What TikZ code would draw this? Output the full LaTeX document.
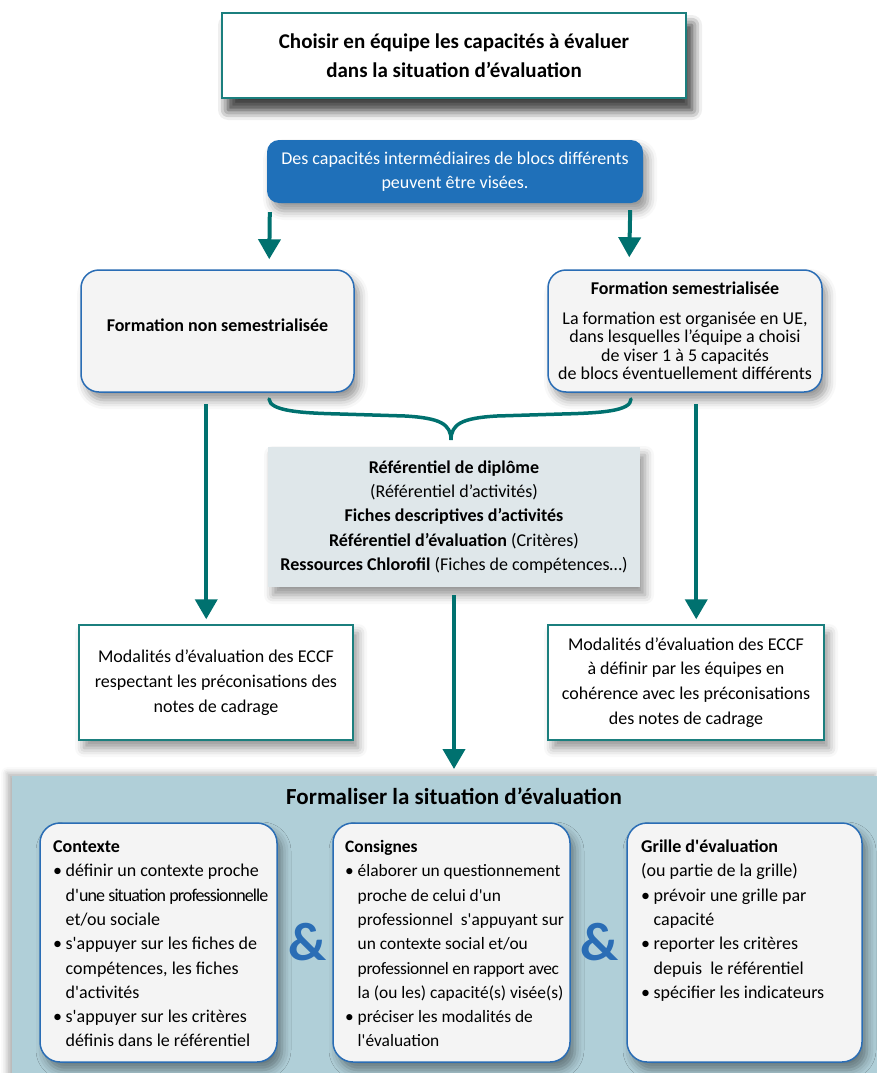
\documentclass[tikz,border=0pt]{standalone}
\usepackage{fontspec}
\setmainfont{Carlito}
\usetikzlibrary{arrows.meta,shadows.blur,calc}
\definecolor{tealA}{HTML}{00716F}
\definecolor{tealB}{HTML}{1B7F7E}
\definecolor{blueB}{HTML}{2A6DB5}
\definecolor{blueF}{HTML}{1F70B9}
\definecolor{grayF}{HTML}{F4F4F4}
\definecolor{centF}{HTML}{DFE7EA}
\definecolor{panelF}{HTML}{B0CFD8}
\newcommand\bulx{\makebox[12.5pt][l]{\textbullet}}
\newcommand\indx{\hspace*{12.5pt}}
\newcommand\apx{\textquotesingle}
\tikzset{
 shad/.style={blur shadow={shadow xshift=5pt,shadow yshift=-8pt,shadow blur radius=9pt,shadow opacity=42}},
 sqbox/.style={draw=tealB,line width=1.5pt,fill=white,shad,inner sep=0pt,align=center},
 rbox/.style={draw=blueB,line width=1.5pt,fill=grayF,rounded corners=18pt,shad,inner sep=0pt,align=center},
 arr/.style={draw=tealA,line width=4pt,-{Triangle[length=20pt,width=22pt]}},
 txt/.style={inner sep=0pt,align=left,anchor=north west,font=\fontsize{18}{24.3}\selectfont},
}
\begin{document}
\begin{tikzpicture}[x=1pt,y=-1pt]
\useasboundingbox (0,0) rectangle (876,1073);
% top
\node[sqbox,blur shadow={shadow xshift=6pt,shadow yshift=-12pt,shadow blur radius=10pt,shadow opacity=50},
 minimum width=464pt,minimum height=85pt,font=\bfseries\fontsize{21}{29}\selectfont] (top) at (454,55.5)
 {Choisir en équipe les capacités à évaluer\\dans la situation d’évaluation};
\node[fill=blueF,rounded corners=12pt,shad,minimum width=376pt,minimum height=63pt,
 text=white,align=center,inner sep=0pt,font=\fontsize{18}{24}\selectfont] (blue) at (455,171.5)
 {Des capacités intermédiaires de blocs différents\\peuvent être visées.};
\node[rbox,minimum width=273pt,minimum height=122pt] (lfm) at (217.5,331) {};
\node[font=\bfseries\fontsize{18}{19}\selectfont,inner sep=0pt] (lfmt) at (217.5,325) {Formation non semestrialisée};
\node[rbox,minimum width=274pt,minimum height=122pt,font=\fontsize{18}{18.5}\selectfont] (rfm) at (685,331)
 {\textbf{Formation semestrialisée}\\[11pt]La formation est organisée en UE,\\dans lesquelles l’équipe a choisi\\de viser 1 à 5 capacités\\de blocs éventuellement différents};
\node[fill=centF,shad,minimum width=372pt,minimum height=140pt,inner sep=0pt,align=center,font=\fontsize{18}{24.3}\selectfont] (cen) at (454,517)
 {\textbf{Référentiel de diplôme}\\(Référentiel d’activités)\\\textbf{Fiches descriptives d’activités}\\\textbf{Référentiel d’évaluation} (Critères)\\\textbf{Ressources Chlorofil} (Fiches de compétences…)};
\node[sqbox,minimum width=274pt,minimum height=115pt,font=\fontsize{18}{25}\selectfont] (lmod) at (216,682.5)
 {Modalités d’évaluation des ECCF\\respectant les préconisations des\\notes de cadrage};
\node[sqbox,minimum width=276pt,minimum height=115pt,font=\fontsize{18}{24.7}\selectfont] (rmod) at (686,682.5)
 {Modalités d’évaluation des ECCF\\à définir par les équipes en\\cohérence avec les préconisations\\des notes de cadrage};
% arrows
\draw[arr] ([shift={(3,9)}]blue.south west) -- ([shift={(189,-10)}]lfm.north west);
\draw[arr] ([shift={(-13,7)}]blue.south east) -- ([shift={(82,-12)}]rfm.north west);
\draw[arr] ([shift={(126,11)}]lfm.south west) -- ([shift={(128,-5)}]lmod.north west);
\draw[arr] ([shift={(149,11)}]rfm.south west) -- ([shift={(149,-5)}]rmod.north west);
% brace
\draw[tealA,line width=3.5pt,line cap=round]
 (269,399) .. controls (270,411) and (300,413) .. (340,414) -- (405,416)
 .. controls (440,418) and (451,424) .. (451,440)
 .. controls (451,424) and (462,418) .. (497,416) -- (562,414)
 .. controls (602,413) and (631,411) .. (631,399);
% panel
\node[fill=panelF,blur shadow={shadow xshift=-5pt,shadow yshift=3pt,shadow blur radius=6pt,shadow opacity=30},
 minimum width=868pt,minimum height=310pt,inner sep=0pt,anchor=north west] (panel) at (12,776) {};
\draw[arr] ([yshift=-8pt]cen.south) -- ([yshift=7pt]cen.south |- panel.north);
\node[font=\bfseries\fontsize{23}{26}\selectfont] (ptitle) at (454,796) {Formaliser la situation d’évaluation};
\node[rbox,rounded corners=20pt,minimum width=237pt,minimum height=239pt] (b1) at (158.5,942.5) {};
\node[rbox,rounded corners=20pt,minimum width=237pt,minimum height=239pt] (b2) at (451.5,942.5) {};
\node[rbox,rounded corners=20pt,minimum width=235pt,minimum height=239pt] (b3) at (744.5,942.5) {};
\node[txt] (t1) at (53,835.3) {\strut\textbf{Contexte}\\\bulx définir un contexte proche\\\indx {\addfontfeature{LetterSpace=-5}d\apx une situation professionnelle}\\\indx et/ou sociale\\\bulx s\apx appuyer sur les fiches de\\\indx compétences, les fiches\\\indx d\apx activités\\\bulx s\apx appuyer sur les critères\\\indx définis dans le référentiel};
\node[txt,font=\fontsize{17.4}{24.3}\selectfont] (t2) at (345,835.3) {\strut\textbf{Consignes}\\\bulx élaborer un questionnement\\\indx proche de celui d\apx un\\\indx professionnel\ \ s\apx appuyant sur\\\indx un contexte social et/ou\\\indx {\addfontfeature{LetterSpace=-2}professionnel en rapport avec}\\\indx la (ou les) capacité(s) visée(s)\\\bulx préciser les modalités de\\\indx l\apx évaluation};
\node[txt] (t3) at (641,835.3) {\strut\textbf{Grille d\apx évaluation}\\(ou partie de la grille)\\\bulx prévoir une grille par\\\indx capacité\\\bulx reporter les critères\\\indx depuis\ \ le référentiel\\\bulx spécifier les indicateurs};
\node[text=blueB,font=\bfseries\fontsize{54}{54}\selectfont,inner sep=0pt] (amp1) at (308,942) {\&};
\node[text=blueB,font=\bfseries\fontsize{54}{54}\selectfont,inner sep=0pt] (amp2) at (600,942) {\&};
\end{tikzpicture}
\end{document}
